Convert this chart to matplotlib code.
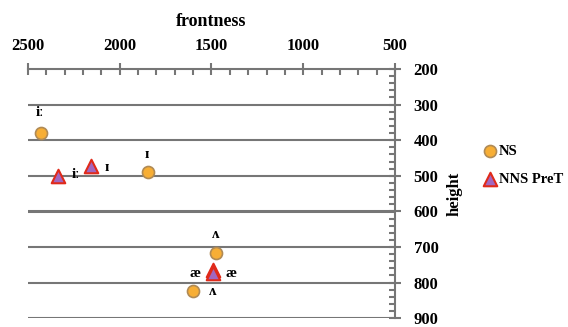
import matplotlib.pyplot as plt
from matplotlib.ticker import MultipleLocator

plt.rcParams['font.family'] = ['Liberation Serif', 'DejaVu Serif']
plt.rcParams['font.weight'] = 'bold'

# vowel formant means: frontness (F2) and height (F1)
ns_front = [2430, 1845, 1475, 1600]
ns_height = [380, 490, 717, 825]
nns_front = [2335, 2155, 1493, 1490]
nns_height = [500, 473, 765, 772]

# vowel symbols placed near the points
labels = ['iː', 'ɪ', 'ɪ', 'iː', 'ʌ', 'æ', 'æ', 'ʌ']
label_x = [2435, 1851, 2070, 2241, 1475, 1590, 1394, 1492]
label_y = [323, 440, 478, 495, 665, 774, 774, 824]

grey = '#767676'

fig = plt.figure(figsize=(5.68, 3.27), dpi=100)
ax = fig.add_axes([0.0493, 0.027, 0.646, 0.762])

ax.set_xlim(2500, 500)
ax.set_ylim(900, 200)

for h in range(300, 1000, 100):
    ax.axhline(h, color=grey, lw=2.2 if h == 600 else 1.5, zorder=1)

ax.scatter(ns_front, ns_height, s=75, marker='o', color='#F7AE35',
           edgecolors='#B08A55', linewidths=1.2, zorder=3, label='NS')
ax.scatter(nns_front, nns_height, s=95, marker='^', color='#A267BF',
           edgecolors='#E02A1A', linewidths=1.5, zorder=4, label='NNS PreT')

for t, x, y in zip(labels, label_x, label_y):
    ax.text(x, y, t, fontsize=11, ha='center', va='center', zorder=5)

ax.xaxis.tick_top()
ax.xaxis.set_label_position('top')
ax.yaxis.tick_right()
ax.yaxis.set_label_position('right')

ax.xaxis.set_major_locator(MultipleLocator(500))
ax.xaxis.set_minor_locator(MultipleLocator(100))
ax.yaxis.set_major_locator(MultipleLocator(100))
ax.yaxis.set_minor_locator(MultipleLocator(20))

for s in ['left', 'bottom']:
    ax.spines[s].set_visible(False)
for s in ['top', 'right']:
    ax.spines[s].set_color(grey)
    ax.spines[s].set_linewidth(1.5)

ax.tick_params(which='major', direction='inout', length=9, width=1.5,
               color=grey, labelsize=12, pad=6)
ax.tick_params(which='minor', direction='in', length=4, width=1.5, color=grey)
ax.tick_params(axis='y', which='major', pad=9)

ax.set_xlabel('frontness', fontsize=13, fontweight='bold', labelpad=9)
ax.set_ylabel('height', fontsize=12, fontweight='bold', labelpad=6)

ax.legend(loc='upper left', bbox_to_anchor=(0.84, 0.575), frameon=False,
          fontsize=10.5, handletextpad=0.1, labelspacing=1.0,
          borderaxespad=0, handlelength=1.0, bbox_transform=fig.transFigure)

fig.savefig('out.png', dpi=100)
